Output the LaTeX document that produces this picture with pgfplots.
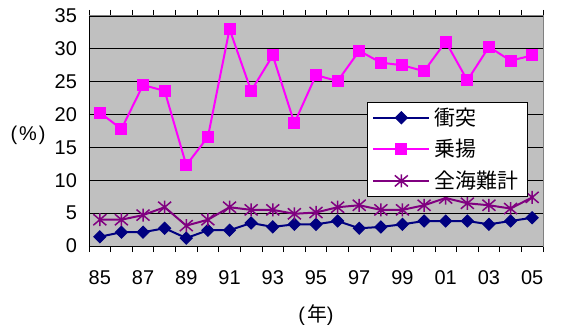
\documentclass[border=0pt]{standalone}
\usepackage{fontspec}
\setmainfont{Liberation Sans}
\newfontfamily\jp{Noto Sans CJK JP}
\usepackage{pgfplots}
\pgfplotsset{compat=1.18}

\definecolor{navyc}{HTML}{000080}
\definecolor{magc}{HTML}{FF00FF}
\definecolor{purc}{HTML}{800080}
\definecolor{plotbg}{HTML}{C0C0C0}
\definecolor{framec}{HTML}{808080}

% six-spoke star: an x with a vertical bar through it
\pgfdeclareplotmark{xstar}{%
  \pgfpathmoveto{\pgfqpoint{-\pgfplotmarksize}{-0.85\pgfplotmarksize}}%
  \pgfpathlineto{\pgfqpoint{\pgfplotmarksize}{0.85\pgfplotmarksize}}%
  \pgfpathmoveto{\pgfqpoint{-\pgfplotmarksize}{0.85\pgfplotmarksize}}%
  \pgfpathlineto{\pgfqpoint{\pgfplotmarksize}{-0.85\pgfplotmarksize}}%
  \pgfpathmoveto{\pgfqpoint{0pt}{-\pgfplotmarksize}}%
  \pgfpathlineto{\pgfqpoint{0pt}{\pgfplotmarksize}}%
  \pgfusepathqstroke}

% square-proportioned filled diamond
\pgfdeclareplotmark{rdiamond}{%
  \pgfpathmoveto{\pgfqpoint{0pt}{\pgfplotmarksize}}%
  \pgfpathlineto{\pgfqpoint{\pgfplotmarksize}{0pt}}%
  \pgfpathlineto{\pgfqpoint{0pt}{-\pgfplotmarksize}}%
  \pgfpathlineto{\pgfqpoint{-\pgfplotmarksize}{0pt}}%
  \pgfpathclose
  \pgfusepathqfillstroke}

% years 1985-2005 at x = 0..20
\pgfplotstableread{
x  collision grounding total
0  1.4  20.3  4.0
1  2.1  17.8  4.0
2  2.1  24.5  4.7
3  2.7  23.6  5.9
4  1.2  12.3  3.1
5  2.4  16.6  4.0
6  2.4  33.0  5.9
7  3.5  23.6  5.5
8  2.9  29.0  5.5
9  3.3  18.7  4.9
10 3.3  26.0  5.1
11 3.8  25.1  5.9
12 2.7  29.7  6.2
13 2.9  27.9  5.5
14 3.3  27.5  5.5
15 3.8  26.6  6.2
16 3.8  31.1  7.3
17 3.8  25.2  6.5
18 3.3  30.3  6.2
19 3.8  28.2  5.7
20 4.3  29.0  7.4
}\accrate

\begin{document}
\fontsize{20}{24}\selectfont
\begin{tikzpicture}
\path[use as bounding box] (-89bp,-79bp) rectangle (478bp,246bp);
\begin{axis}[
  at={(0,0)}, anchor=south west,
  scale only axis, width=454bp, height=230bp,
  xmin=-0.5, xmax=20.5, ymin=0, ymax=35,
  xtick={0,2,...,20},
  xticklabels={85,87,89,91,93,95,97,99,01,03,05},
  minor xtick={-0.5,0.5,...,20.5},
  major x tick style={draw=none},
  minor x tick style={black, line width=0.8pt},
  minor tick length=6bp,
  tick align=outside,
  ytick={0,5,...,35},
  y tick style={draw=none},
  ymajorgrids,
  major grid style={black, line width=0.9pt},
  axis line style={framec, line width=1pt},
  axis background/.style={fill=plotbg},
  tick label style={font=\fontsize{20}{24}\selectfont},
  /pgf/number format/assume math mode=true,
  xticklabel style={yshift=-13bp},
  yticklabel style={xshift=-1bp},
  xlabel={(\hspace{2bp}{\jp 年})},
  xlabel style={font=\fontsize{20}{24}\selectfont, yshift=-7bp},
  ylabel={(\hspace{2bp}\%\hspace{2bp})},
  ylabel style={font=\fontsize{20}{24}\selectfont, rotate=-90, at={(rel axis cs:0,0.48)}, anchor=center, xshift=-61bp},
  legend style={at={(0.612,0.626)}, anchor=north west, draw=black, line width=1pt, fill=white,
    font=\jp\fontsize{21}{25}\selectfont, inner xsep=5bp, inner ysep=3bp,
    row sep=7bp,
    nodes={inner xsep=4bp}},
  legend cell align=left,
  legend image code/.code={%
    \draw[mark repeat=2, mark phase=2, #1, line width=2bp] plot coordinates {(0bp,0bp) (28bp,0bp) (56bp,0bp)};},
]
\addplot[navyc, line width=2bp, mark=rdiamond, mark size=6bp,
  mark options={solid, fill=navyc, line width=1bp}] table[x=x, y=collision] {\accrate};
\addlegendentry{衝突}
\addplot[magc, line width=2bp, mark=square*, mark size=5.5bp,
  mark options={solid, fill=magc, line width=1bp}] table[x=x, y=grounding] {\accrate};
\addlegendentry{乗揚}
\addplot[purc, line width=2bp, mark=xstar, mark size=6.5bp,
  mark options={solid, line width=1.5bp}] table[x=x, y=total] {\accrate};
\addlegendentry{全海難計}
% black bottom and left axis lines over the grey frame
\draw[black, line width=1pt] (rel axis cs:0,1) -- (rel axis cs:0,0) -- (rel axis cs:1,0);
\end{axis}
\end{tikzpicture}
\end{document}
